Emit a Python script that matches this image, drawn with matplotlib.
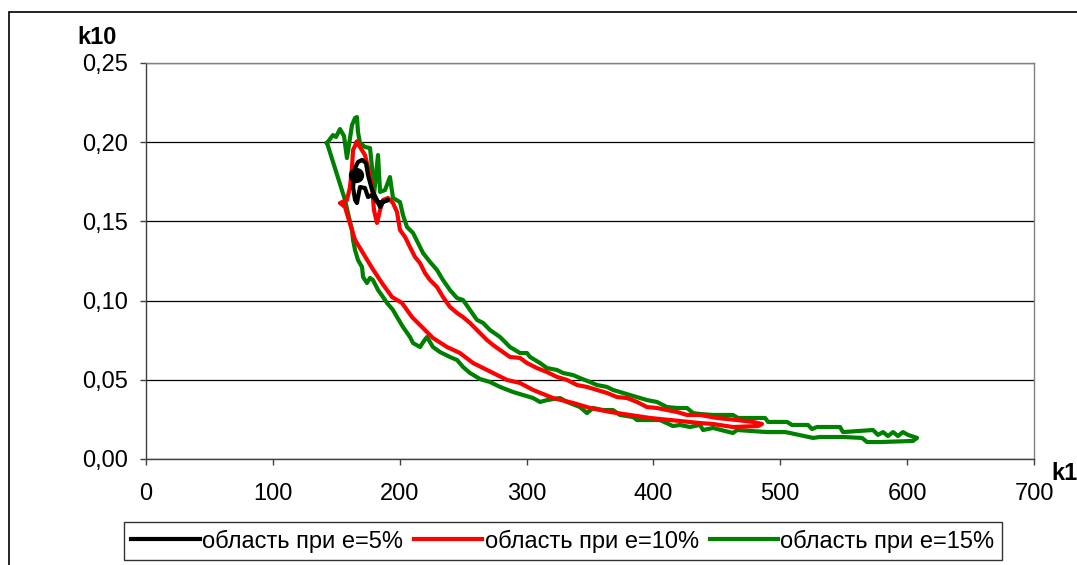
import matplotlib
matplotlib.use("Agg")
import matplotlib.pyplot as plt
from matplotlib.patches import Rectangle
from matplotlib.ticker import FuncFormatter, MultipleLocator

plt.rcParams["font.family"] = ["Liberation Sans", "DejaVu Sans"]

# boundary of the region for e=15% (closed contour)
green_k1 = [142.7, 147.4, 149.8, 152.9, 156.1, 158.4, 162.4, 164.8, 166.3, 167.1,
            168.7, 172.6, 176.6, 178.2, 179.7, 182.9, 184.5, 188.4, 192.3, 194.7,
            200.2, 202.6, 205.7, 210.5, 214.4, 218.4, 223.9, 229.4, 234.1, 239.6,
            245.2, 249.9, 255.4, 260.9, 265.7, 271.2, 279.1, 286.9, 294.8, 300.3,
            302.7, 310.6, 316.1, 324.0, 328.7, 336.6, 342.1, 350.0, 355.5, 363.4,
            368.1, 373.6, 381.5, 389.4, 394.9, 402.8, 410.7, 418.6, 426.5, 431.2,
            436.7, 447.0, 462.7, 466.7, 488.0, 490.3, 505.3, 509.2, 521.8, 525.0,
            528.9, 547.1, 549.4, 573.1, 577.0, 581.0, 584.9, 588.9, 592.8, 596.7,
            600.7, 607.8,
            604.6, 578.6, 568.4, 564.4, 549.4, 531.3, 525.8, 507.7, 503.7, 489.5,
            465.9, 462.7, 447.0, 439.1, 436.7, 428.8, 420.9, 415.4, 405.2, 387.1,
            383.9, 373.6, 368.1, 360.3, 352.4, 347.6, 342.1, 331.9, 326.4, 316.1,
            310.6, 305.1, 297.2, 289.3, 279.1, 271.2, 263.3, 255.4, 249.9, 245.2,
            239.6, 231.8, 226.2, 221.5, 219.1, 216.0, 210.5, 208.1, 202.6, 197.9,
            194.7, 190.0, 186.8, 182.9, 178.9, 176.6, 174.2, 171.1, 170.3, 167.1,
            164.8, 163.2, 162.4, 159.2, 156.9, 142.7]
green_k10 = [0.1995, 0.2045, 0.2033, 0.2083, 0.2039, 0.1900, 0.2109, 0.2153, 0.2159, 0.2064,
             0.1995, 0.1970, 0.1963, 0.1837, 0.1667, 0.1919, 0.1686, 0.1698, 0.1780, 0.1648,
             0.1622, 0.1540, 0.1465, 0.1427, 0.1364, 0.1300, 0.1244, 0.1193, 0.1130, 0.1067,
             0.1016, 0.1004, 0.0941, 0.0878, 0.0859, 0.0814, 0.0770, 0.0707, 0.0669, 0.0669,
             0.0644, 0.0606, 0.0574, 0.0562, 0.0543, 0.0530, 0.0511, 0.0486, 0.0467, 0.0455,
             0.0436, 0.0423, 0.0404, 0.0385, 0.0372, 0.0360, 0.0328, 0.0322, 0.0322, 0.0290,
             0.0284, 0.0278, 0.0278, 0.0259, 0.0259, 0.0234, 0.0234, 0.0215, 0.0215, 0.0189,
             0.0202, 0.0202, 0.0170, 0.0183, 0.0152, 0.0170, 0.0145, 0.0170, 0.0145, 0.0170,
             0.0152, 0.0133,
             0.0114, 0.0107, 0.0107, 0.0133, 0.0139, 0.0139, 0.0133, 0.0164, 0.0170, 0.0170,
             0.0183, 0.0164, 0.0196, 0.0183, 0.0215, 0.0202, 0.0215, 0.0208, 0.0246, 0.0246,
             0.0265, 0.0278, 0.0309, 0.0309, 0.0322, 0.0290, 0.0328, 0.0360, 0.0385, 0.0372,
             0.0360, 0.0385, 0.0404, 0.0423, 0.0455, 0.0486, 0.0505, 0.0543, 0.0581, 0.0625,
             0.0644, 0.0675, 0.0707, 0.0770, 0.0745, 0.0707, 0.0732, 0.0770, 0.0833, 0.0896,
             0.0941, 0.0985, 0.1023, 0.1067, 0.1130, 0.1143, 0.1111, 0.1149, 0.1212, 0.1256,
             0.1319, 0.1383, 0.1446, 0.1553, 0.1635, 0.1995]

# boundary of the region for e=10%
red_k1 = [166.3, 172.6, 175.0, 178.2, 179.7, 182.1, 184.5, 186.8, 190.8, 194.7,
          197.9, 200.2, 204.2, 208.1, 212.1, 216.0, 219.9, 223.9, 229.4, 234.1,
          239.6, 245.2, 249.9, 255.4, 263.3, 268.8, 273.5, 281.4, 286.9, 294.8,
          300.3, 308.2, 316.1, 324.0, 331.9, 339.8, 347.6, 355.5, 363.4, 371.3,
          379.2, 387.1, 394.9, 402.8, 410.7, 418.6, 426.5, 436.7, 450.1, 465.9,
          478.5, 485.6,
          482.4, 462.7, 447.0, 436.7, 420.9, 413.1, 397.3, 381.5, 365.8, 350.0,
          336.6, 320.8, 305.1, 294.8, 284.6, 268.8, 257.8, 247.5, 237.3, 226.2,
          217.6, 209.7, 201.8, 193.9, 186.0, 178.2, 171.1, 164.8, 159.2, 156.9,
          152.9, 158.4, 160.8, 162.4, 163.2, 166.3]
red_k10 = [0.2001, 0.1919, 0.1843, 0.1717, 0.1572, 0.1490, 0.1572, 0.1635, 0.1648, 0.1616,
           0.1559, 0.1446, 0.1402, 0.1338, 0.1275, 0.1237, 0.1174, 0.1130, 0.1086, 0.1023,
           0.0960, 0.0922, 0.0896, 0.0859, 0.0795, 0.0751, 0.0720, 0.0675, 0.0644, 0.0638,
           0.0606, 0.0574, 0.0549, 0.0518, 0.0499, 0.0467, 0.0455, 0.0436, 0.0417, 0.0391,
           0.0385, 0.0360, 0.0328, 0.0322, 0.0309, 0.0297, 0.0278, 0.0278, 0.0259, 0.0246,
           0.0234, 0.0221,
           0.0208, 0.0202, 0.0221, 0.0227, 0.0240, 0.0246, 0.0259, 0.0278, 0.0297, 0.0322,
           0.0354, 0.0385, 0.0436, 0.0480, 0.0499, 0.0562, 0.0606, 0.0669, 0.0707, 0.0764,
           0.0833, 0.0896, 0.0985, 0.1023, 0.1111, 0.1206, 0.1300, 0.1383, 0.1528, 0.1591,
           0.1616, 0.1635, 0.1717, 0.1843, 0.1951, 0.2001]

# boundary of the region for e=5%
black_k1 = [163.2, 164.8, 167.1, 170.3, 173.4, 175.0, 178.2, 182.1, 184.5, 186.8,
            190.8, 182.9, 178.2, 175.0, 172.6, 168.7, 166.3, 164.8, 163.2]
black_k10 = [0.1717, 0.1837, 0.1875, 0.1888, 0.1869, 0.1793, 0.1698, 0.1635, 0.1591, 0.1622,
             0.1635, 0.1616, 0.1667, 0.1654, 0.1711, 0.1717, 0.1616, 0.1635, 0.1717]

# point estimate
point_k1 = [165.5]
point_k10 = [0.1793]

labels = ["область при е=5%", "область при е=10%", "область при е=15%"]

W, H = 1077, 565
fig = plt.figure(figsize=(W / 100, H / 100), dpi=100)
ax = fig.add_axes([146 / W, 1 - 459 / H, (1034 - 146) / W, (459 - 63) / H])

LW = 3.0
l1, = ax.plot(black_k1, black_k10, color="black", lw=LW, zorder=5)
l2, = ax.plot(red_k1, red_k10, color="#ff0000", lw=LW, zorder=4)
l3, = ax.plot(green_k1, green_k10, color="#008000", lw=LW, zorder=3)
ax.plot(point_k1, point_k10, "o", color="black", ms=10, zorder=6)

ax.set_xlim(0, 700)
ax.set_ylim(0, 0.25)
ax.xaxis.set_major_locator(MultipleLocator(100))
ax.yaxis.set_major_locator(MultipleLocator(0.05))
ax.yaxis.set_major_formatter(FuncFormatter(lambda v, p: f"{v:.2f}".replace(".", ",")))
ax.grid(axis="y", color="black", lw=0.9)
ax.set_axisbelow(True)
ax.tick_params(labelsize=17, length=4.5, width=1, color="#404040")
ax.tick_params(axis="x", pad=13)
ax.tick_params(axis="y", pad=8.5)

for s in ["top", "right"]:
    ax.spines[s].set_color("#808080")
for s in ["left", "bottom"]:
    ax.spines[s].set_color("#404040")
for s in ax.spines.values():
    s.set_linewidth(1)

fig.text(97 / W, 1 - 38 / H, "k10", fontsize=17, fontweight="bold",
         ha="center", va="center")
fig.text(1051 / W, 1 - 474 / H, "k1", fontsize=17, fontweight="bold",
         ha="left", va="center")

leg = fig.legend([l1, l2, l3], labels, ncol=3, loc="center",
                 bbox_to_anchor=(563 / W, 1 - 541 / H), fontsize=17,
                 frameon=True, fancybox=False, handlelength=2.9,
                 handletextpad=0.1, columnspacing=0.45, borderpad=0.3,
                 borderaxespad=0)
leg.get_frame().set_edgecolor("black")
leg.get_frame().set_linewidth(1)

# outer chart frame
fig.patches.append(Rectangle((9 / W, -0.1), 1.2, 1 - 12 / H + 0.1,
                             transform=fig.transFigure, fill=False,
                             edgecolor="black", lw=1.2))

fig.savefig("out.png", dpi=100)
